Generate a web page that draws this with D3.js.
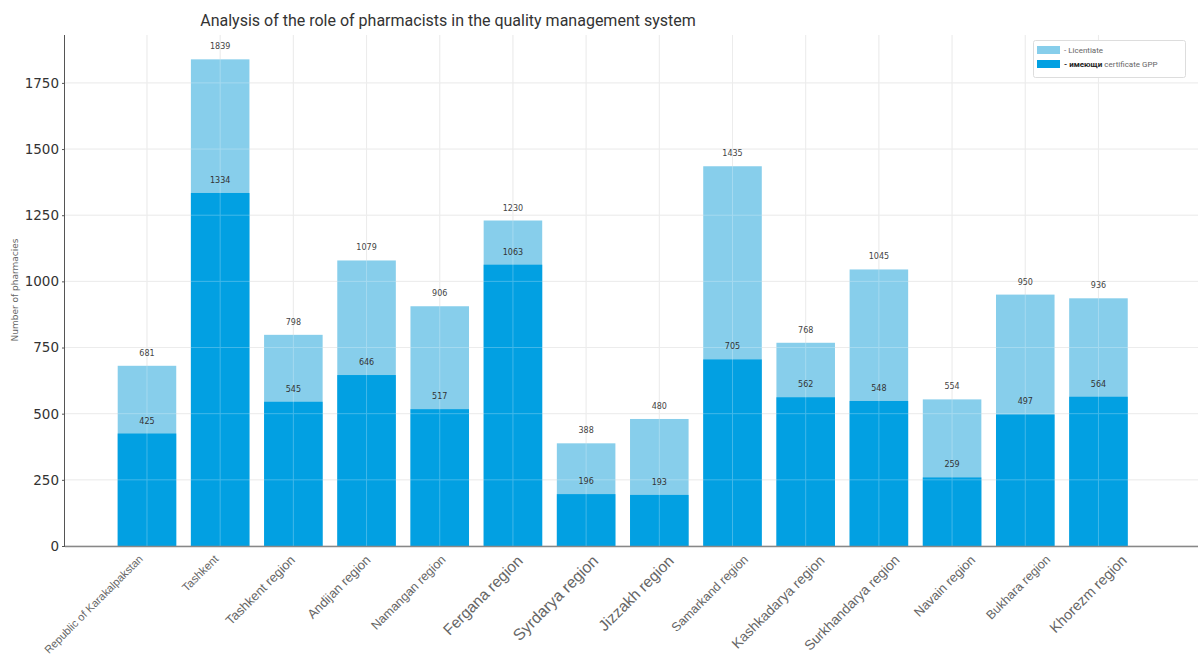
<!DOCTYPE html>
<html>
<head>
<meta charset="utf-8">
<script src="https://cdn.jsdelivr.net/npm/d3@7"></script>
<style>
  html, body { margin: 0; padding: 0; background: #fff; }
  svg { display: block; }
</style>
</head>
<body>
<svg id="chart" width="1198" height="657"></svg>
<script>
const categories = ["Republic of Karakalpakstan", "Tashkent", "Tashkent region", "Andijan region",
  "Namangan region", "Fergana region", "Syrdarya region", "Jizzakh region", "Samarkand region",
  "Kashkadarya region", "Surkhandarya region", "Navain region", "Bukhara region", "Khorezm region"];
const licentiate = [681, 1839, 798, 1079, 906, 1230, 388, 480, 1435, 768, 1045, 554, 950, 936];
const gppCertified = [425, 1334, 545, 646, 517, 1063, 196, 193, 705, 562, 548, 259, 497, 564];
const yTicks = [0, 250, 500, 750, 1000, 1250, 1500, 1750];
const labelSizes = [11, 11.5, 13, 13, 12.5, 15.5, 16, 15.5, 12.5, 14, 13.8, 13, 12.5, 14.5];

(function () {
const svg = d3.select("#chart");
const pLeft = 65, pRight = 1198, pTop = 35, pBottom = 546;

const x = d3.scaleLinear().domain([-1.12, 14.36]).range([pLeft, pRight]);
const barW = (x(1) - x(0)) * 0.8;
const y = d3.scaleLinear().domain([0, 1931]).range([pBottom, pTop]);
// label anchor positions (labels in the original are spaced slightly wider than the bars)
const xl = d3.scaleLinear().domain([0, categories.length - 1]).range([x(0) - 9, x(categories.length - 1) + 22]);

const lightColor = "#87CEEB";
const darkColor = "#02A0E2";

// grid behind
const grid = svg.append("g");
grid.selectAll("line.h").data(yTicks).join("line")
  .attr("x1", pLeft).attr("x2", pRight)
  .attr("y1", d => y(d)).attr("y2", d => y(d))
  .attr("stroke", "#e6e6e6").attr("stroke-width", 1);
grid.selectAll("line.v").data(categories).join("line")
  .attr("x1", (d, i) => x(i)).attr("x2", (d, i) => x(i))
  .attr("y1", pTop).attr("y2", pBottom)
  .attr("stroke", "#e6e6e6").attr("stroke-width", 1);

// bars
svg.append("g").selectAll("rect").data(licentiate).join("rect")
  .attr("x", (d, i) => x(i) - barW / 2).attr("width", barW)
  .attr("y", d => y(d)).attr("height", d => pBottom - y(d))
  .attr("fill", lightColor);
svg.append("g").selectAll("rect").data(gppCertified).join("rect")
  .attr("x", (d, i) => x(i) - barW / 2).attr("width", barW)
  .attr("y", d => y(d)).attr("height", d => pBottom - y(d))
  .attr("fill", darkColor);

// faint grid over bars
const grid2 = svg.append("g").attr("opacity", 0.25);
grid2.selectAll("line.h").data(yTicks.slice(1)).join("line")
  .attr("x1", pLeft).attr("x2", pRight)
  .attr("y1", d => y(d)).attr("y2", d => y(d))
  .attr("stroke", "#ffffff");
grid2.selectAll("line.v").data(categories).join("line")
  .attr("x1", (d, i) => x(i)).attr("x2", (d, i) => x(i))
  .attr("y1", pTop).attr("y2", pBottom)
  .attr("stroke", "#ffffff");

// value labels
const valFont = "'DejaVu Sans', sans-serif";
svg.append("g").selectAll("text").data(licentiate).join("text")
  .attr("x", (d, i) => x(i)).attr("y", d => y(d) - 10)
  .attr("text-anchor", "middle").attr("font-family", valFont)
  .attr("font-size", 8).attr("fill", "#444").text(d => d);
svg.append("g").selectAll("text").data(gppCertified).join("text")
  .attr("x", (d, i) => x(i)).attr("y", d => y(d) - 10)
  .attr("text-anchor", "middle").attr("font-family", valFont)
  .attr("font-size", 8).attr("fill", "#333").text(d => d);

// y axis
const yAxis = d3.axisLeft(y).tickValues(yTicks).tickFormat(d3.format("d")).tickSize(3).tickPadding(3);
const yg = svg.append("g").attr("transform", `translate(${pLeft},0)`).call(yAxis);
yg.select(".domain").attr("stroke", "#555").attr("d", `M-0.5,${pTop}V${pBottom}`);
yg.selectAll(".tick line").attr("stroke", "#555");
yg.selectAll(".tick text").attr("font-family", valFont).attr("font-size", 13.5).attr("fill", "#333");

// x axis baseline
svg.append("line").attr("x1", pLeft).attr("x2", pRight)
  .attr("y1", pBottom + 0.5).attr("y2", pBottom + 0.5)
  .attr("stroke", "#888").attr("stroke-width", 1.5);

// x labels
svg.append("g").selectAll("text").data(categories).join("text")
  .attr("transform", (d, i) => `translate(${xl(i)},${pBottom + 8}) rotate(-45)`)
  .attr("text-anchor", "end").attr("dominant-baseline", "hanging")
  .attr("font-family", "'Liberation Sans', Arial, sans-serif")
  .attr("font-size", (d, i) => labelSizes[i]).attr("fill", "#666")
  .text(d => d);

// y label
svg.append("text").attr("transform", "translate(18,290) rotate(-90)")
  .attr("text-anchor", "middle").attr("font-family", valFont)
  .attr("font-size", 9).attr("fill", "#666").text("Number of pharmacies");

// title
svg.append("text").attr("x", 448).attr("y", 26)
  .attr("text-anchor", "middle").attr("font-family", "Roboto, sans-serif")
  .attr("font-size", 16).attr("fill", "#333")
  .text("Analysis of the role of pharmacists in the quality management system");

// legend
const lg = svg.append("g");
lg.append("rect").attr("x", 1033.5).attr("y", 40.5).attr("width", 152).attr("height", 37)
  .attr("rx", 2).attr("fill", "#fff").attr("stroke", "#ddd");
lg.append("rect").attr("x", 1037).attr("y", 46).attr("width", 23).attr("height", 8).attr("fill", lightColor);
lg.append("rect").attr("x", 1037).attr("y", 60).attr("width", 23).attr("height", 8).attr("fill", darkColor);
lg.append("text").attr("x", 1064).attr("y", 53).attr("font-family", "Roboto, sans-serif")
  .attr("font-size", 8).attr("fill", "#666").text("- Licentiate");
const t2 = lg.append("text").attr("x", 1064).attr("y", 67).attr("font-family", "Roboto, sans-serif")
  .attr("font-size", 8).attr("fill", "#666");
t2.append("tspan").attr("font-weight", "bold").attr("fill", "#222").text("- имеющи");
t2.append("tspan").text(" certificate GPP");
})();
</script>
</body>
</html>
